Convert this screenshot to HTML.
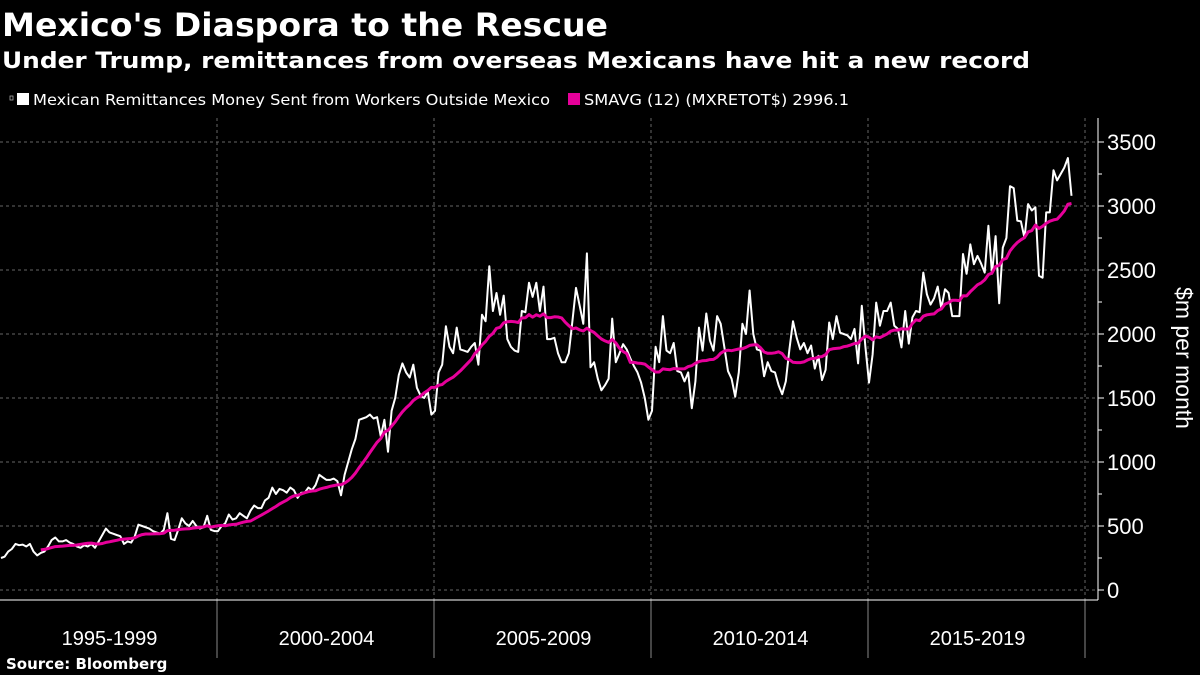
<!DOCTYPE html>
<html><head><meta charset="utf-8"><style>
html,body{margin:0;padding:0;background:#000;}
svg{display:block;font-family:"DejaVu Sans","Liberation Sans",sans-serif;}
</style></head><body>
<svg id="chart" width="1200" height="675" viewBox="0 0 1200 675" xmlns="http://www.w3.org/2000/svg">
<rect width="1200" height="675" fill="#000"/>
<text x="2" y="36" fill="#fff" font-size="32" font-weight="bold" textLength="606" lengthAdjust="spacingAndGlyphs">Mexico's Diaspora to the Rescue</text>
<text x="2" y="68" fill="#fff" font-size="22" font-weight="bold" textLength="1028" lengthAdjust="spacingAndGlyphs">Under Trump, remittances from overseas Mexicans have hit a new record</text>
<g>
 <rect x="10" y="96" width="3" height="4" fill="none" stroke="#aaa" stroke-width="0.8"/>
 <rect x="17" y="93" width="12" height="12" fill="#fff"/>
 <text x="33" y="105" fill="#fff" font-size="15" textLength="517" lengthAdjust="spacingAndGlyphs">Mexican Remittances Money Sent from Workers Outside Mexico</text>
 <rect x="568" y="93" width="12" height="12" fill="#e6009a"/>
 <text x="584" y="105" fill="#fff" font-size="15" textLength="265" lengthAdjust="spacingAndGlyphs">SMAVG (12) (MXRETOT$) 2996.1</text>
</g>
<g id="grid"></g>
<g id="axes"></g>
<g id="series"></g>
<text transform="translate(1176,358) rotate(90)" fill="#fff" font-size="23" text-anchor="middle" font-family="Liberation Sans, sans-serif">$m per month</text>
<text x="6" y="669" fill="#fff" font-size="15" font-weight="bold">Source: Bloomberg</text>
</svg>
<script>
const years = ["1995","1996","1997","1998","1999","2000","2001","2002","2003","2004","2005","2006","2007","2008","2009","2010","2011","2012","2013","2014","2015","2016","2017","2018","2019"];
const periodLabels = ["1995-1999","2000-2004","2005-2009","2010-2014","2015-2019"];
const yTicks = [0,500,1000,1500,2000,2500,3000,3500];
const v1995 = [250,260,300,320,360,350,355,340,360,300,270,290];
const v1996 = [300,340,390,410,380,380,390,370,360,340,330,350];
const v1997 = [340,360,330,380,430,480,450,440,430,420,360,380];
const v1998 = [370,420,510,500,490,480,460,450,440,470,600,400];
const v1999 = [390,470,560,520,500,540,500,480,490,580,470,460];
const v2000 = [460,500,520,590,550,560,600,580,560,620,660,640];
const v2001 = [640,700,720,800,750,790,780,760,800,780,720,760];
const v2002 = [760,800,780,820,900,880,860,860,870,850,740,900];
const v2003 = [1000,1100,1180,1330,1340,1350,1370,1340,1350,1200,1330,1080];
const v2004 = [1400,1500,1680,1770,1700,1660,1760,1580,1520,1500,1550,1370];
const v2005 = [1400,1700,1760,2060,1900,1850,2050,1880,1870,1860,1900,1930];
const v2006 = [1760,2150,2100,2530,2180,2320,2150,2300,1960,1900,1870,1860];
const v2007 = [2180,2170,2400,2290,2400,2180,2370,1960,1960,1970,1850,1780];
const v2008 = [1780,1850,2100,2360,2220,2080,2630,1740,1780,1650,1560,1600];
const v2009 = [1650,2120,1780,1850,1920,1880,1810,1750,1700,1620,1500,1330];
const v2010 = [1400,1900,1780,2140,1870,1850,1930,1710,1700,1630,1700,1420];
const v2011 = [1630,2050,1870,2160,1950,1870,2140,2080,1900,1710,1650,1510];
const v2012 = [1700,2080,2000,2340,2000,1880,1870,1670,1780,1710,1700,1600];
const v2013 = [1530,1630,1880,2100,1970,1880,1930,1850,1910,1730,1830,1640];
const v2014 = [1720,2090,1960,2140,2010,2000,1990,1960,2040,1770,2220,1900];
const v2015 = [1620,1840,2245,2065,2180,2180,2245,2065,2040,1895,2180,1925];
const v2016 = [2130,2180,2170,2480,2310,2230,2280,2370,2200,2350,2320,2140];
const v2017 = [2140,2140,2625,2470,2700,2545,2610,2550,2480,2845,2470,2765];
const v2018 = [2240,2675,2750,3155,3140,2885,2880,2750,3015,2965,2990,2455];
const v2019 = [2440,2950,2950,3280,3200,3250,3300,3375,3080];
const monthly = [].concat(v1995,v1996,v1997,v1998,v1999,v2000,v2001,v2002,v2003,v2004,v2005,v2006,v2007,v2008,v2009,v2010,v2011,v2012,v2013,v2014,v2015,v2016,v2017,v2018,v2019);

const NS="http://www.w3.org/2000/svg";
const X0=0, MONTH_W=217/60, Y0=590, Y_PER=448/3500;
const xS = i => X0 + i*MONTH_W + 1;
const yS = v => Y0 - v*Y_PER;
function mk(tag, parent, attrs){const e=document.createElementNS(NS,tag);for(const k in attrs)e.setAttribute(k,attrs[k]);parent.appendChild(e);return e;}
const grid=document.getElementById('grid'), axes=document.getElementById('axes'), series=document.getElementById('series');

yTicks.forEach(t=>{
  const y=yS(t);
  const g=mk('line',grid,{x1:0,x2:1097,y1:y,y2:y,stroke:'#666','stroke-width':1,'stroke-dasharray':'3,3'});
  
  
  mk('line',axes,{x1:1098,x2:1104,y1:y,y2:y,stroke:'#fff','stroke-width':1});
  const lb=mk('text',axes,{x:1107,y:y+8,fill:'#fff','font-size':22,'font-family':'"Liberation Sans",sans-serif'});
  lb.textContent=t;
  
  
  if(t<3500){mk('line',axes,{x1:1098,x2:1102,y1:yS(t+250),y2:yS(t+250),stroke:'#fff','stroke-width':1});}
});
periodLabels.forEach((p,k)=>{
  const xd=xS(k*60+60)-1;
  const v=mk('line',grid,{x1:xd,x2:xd,y1:118,y2:600,stroke:'#666','stroke-width':1,'stroke-dasharray':'3,3'});
  
  
  mk('line',axes,{x1:xd,x2:xd,y1:600,y2:658,stroke:'#888','stroke-width':1});
  const lb=mk('text',axes,{x:xS(k*60+30),y:645,fill:'#fff','font-size':20,'text-anchor':'middle','font-family':'"Liberation Sans",sans-serif'});
  lb.textContent=p;
  
  
});
const ax=mk('line',axes,{x1:0,x2:1098,y1:600,y2:600,stroke:'#fff','stroke-width':1});


const ay=mk('line',axes,{x1:1098,x2:1098,y1:118,y2:600,stroke:'#fff','stroke-width':1});



const pts=monthly.map((v,i)=>xS(i).toFixed(1)+','+yS(v).toFixed(1)).join(' ');
const l1=mk('polyline',series,{points:pts,fill:'none',stroke:'#fff','stroke-width':2,'stroke-linejoin':'round'});


const sma=[];
for(let i=11;i<monthly.length;i++){let s=0;for(let j=i-11;j<=i;j++)s+=monthly[j];sma.push(xS(i).toFixed(1)+','+yS(s/12).toFixed(1));}
const l2=mk('polyline',series,{points:sma.join(' '),fill:'none',stroke:'#e6009a','stroke-width':3,'stroke-linejoin':'round'});


</script>
</body></html>
